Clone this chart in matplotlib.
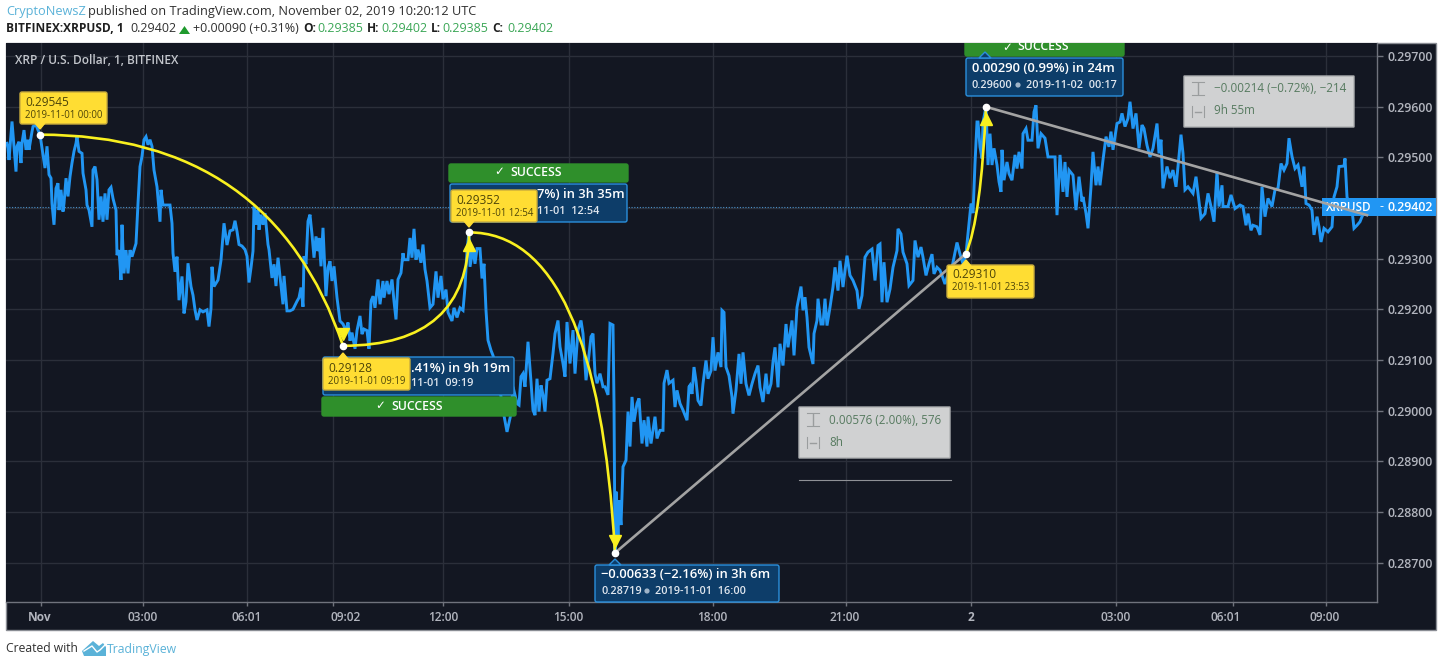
import matplotlib
matplotlib.use("Agg")
import matplotlib.pyplot as plt
from matplotlib.patches import FancyBboxPatch, Rectangle, PathPatch, Polygon, Circle
from matplotlib.path import Path

plt.rcParams['font.family'] = ['Open Sans', 'DejaVu Sans']

# ---------- data ----------
bars = [7,8,9,11,12,14,16,17,19,21,22,24,26,28,29,32,33,36,38,40,42,45,47,49,51,52,54,56,58,59,61,63,64,66,68,70,72,74,76,77,79,82,83,86,87,89,92,93,95,97,99,101,103,105,107,109,111,113,116,117,119,121,122,124,126,128,130,132,136,138,140,142,144,146,148,150,152,154,157,159,160,161,163,170,172,173,175,177,179,182,184,186,188,191,193,195,197,200,203,207,209,211,212,214,218,221,223,224,227,
230,233,235,237,239,242,245,247,249,251,253,254,256,258,259,261,263,265,268,269,272,274,276,278,281,283,284,287,290,293,297,299,301,303,304,306,308,310,312,314,316,318,319,321,323,326,328,330,332,334,337,340,343,346,348,350,352,355,357,360,362,364,367,369,371,373,375,378,380,383,384,387,389,392,394,396,398,401,403,404,408,410,412,414,416,418,421,423,425,427,430,433,436,438,441,443,446,448,452,454,457,460,
463,465,467,469,470,473,475,477,480,482,484,486,488,491,493,497,500,503,507,511,513,517,519,521,523,525,528,531,533,535,537,539,541,543,545,547,550,553,555,558,560,563,565,567,570,573,575,578,581,583,586,588,591,593,595,597,600,603,605,608,610,613,614,615,616,618,619,621,623,626,628,630,632,634,637,639,642,644,647,648,651,653,655,657,660,663,664,667,669,673,675,677,680,683,687,689,
690,692,694,696,698,701,703,706,708,711,713,715,718,721,722,724,726,729,732,733,736,739,741,743,746,749,752,755,758,760,763,766,768,771,773,775,778,780,783,786,788,792,794,797,801,803,805,807,809,813,814,817,818,821,823,825,827,830,833,835,838,840,843,845,847,850,853,857,859,862,865,868,872,875,878,880,882,884,887,890,893,897,898,901,903,907,909,913,915,918,921,923,926,929,932,934,937,940,942,945,948,952,955,957,960,963,966,
969,971,973,975,977,978,980,982,983,986,988,990,992,994,997,999,1001,1002,1004,1007,1009,1012,1015,1017,1019,1022,1023,1026,1028,1032,1034,1036,1038,1041,1045,1048,1055,1057,1060,1063,1065,1067,1069,1073,1076,1079,1082,1083,1086,1088,1091,1093,1096,1098,1100,1103,1106,1109,1111,1113,1117,1120,1122,1125,1128,1130,1133,1136,1139,1142,1144,1147,1150,1153,1157,1159,
1161,1163,1167,1170,1173,1176,1178,1181,1183,1185,1188,1193,1196,1198,1201,1205,1208,1211,1214,1217,1219,1222,1223,1228,1231,1235,1240,1243,1246,1248,1251,1253,1257,1260,1262,1265,1268,1272,1275,1278,1281,1284,1287,1289,1292,1295,1298,1302,1304,1306,1309,1312,1314,1317,1319,1321,1324,1328,1332,1334,1337,1339,1344,1345,1347,1350,1352,1354,1357,1360,1362,1367]

points = [29528,29518,29495,29545,29571,29522,29472,29522,29531,29489,29528,29554,29515,29535,29515,29551,29561,29564,29554,29545,29518,29479,29522,29466,29459,29409,29367,29439,29449,29396,29436,29393,29409,29459,29423,29462,29489,29512,29528,29541,29512,29508,29469,29436,29406,29396,29363,29475,29482,29456,29377,29423,29373,29429,29377,29436,29441,29419,29396,29307,29317,29258,29367,29271,29317,29271,29317,29304,29330,29409,29482,29502,29535,29541,29525,29535,29522,29475,29442,29396,29373,29436,29406,29406,29370,29311,29274,29304,29218,29265,29192,29215,29291,29245,29228,29199,29179,29199,29195,29199,29166,29202,29284,29245,29258,29297,29344,29370,29327,
29355,29357,29375,29354,29328,29325,29318,29305,29253,29282,29315,29403,29367,29397,29357,29387,29367,29390,29328,29318,29262,29289,29246,29302,29246,29210,29266,29197,29197,29200,29216,29223,29243,29205,29305,29289,29374,29387,29348,29302,29344,29315,29341,29285,29361,29226,29282,29295,29256,29285,29223,29177,29171,29158,29174,29138,29154,29122,29158,29187,29151,29161,29158,29122,29216,29226,29203,29259,29210,29256,29223,29256,29230,29259,29216,29180,29259,29272,29311,29298,29298,29341,29302,29359,29298,29318,29292,29328,29279,29256,29203,29210,29275,29223,29266,29220,29239,29194,29177,29203,29184,29203,
29198,29244,29317,29352,29284,29320,29290,29320,29320,29261,29290,29198,29139,29119,29109,29080,29040,29001,28958,28994,29047,29014,29011,29067,29073,29047,29136,29057,29001,28991,29063,28998,29050,29031,28998,29060,29063,29113,29152,29178,29126,29093,29067,29175,29093,29159,29073,29159,29178,29152,29060,29093,29146,29152,29073,29054,29073,29047,29047,29031,29172,29169,29014,28719,28840,28751,28823,28774,28889,28902,28998,28929,29027,28978,29014,29024,28935,28981,28929,28988,28935,28961,28988,28945,28961,28961,29054,29080,29054,29060,29007,29040,29014,29001,28981,29047,
29050,29033,29086,29059,29020,29010,29053,29099,29063,29079,29145,29079,29115,29086,29198,29194,29086,29069,29027,28994,29040,29112,29053,29115,29053,29030,29053,29073,29089,29046,29017,29073,29033,29053,29096,29125,29046,29132,29089,29171,29125,29178,29109,29204,29245,29198,29224,29184,29125,29092,29152,29178,29221,29171,29171,29221,29168,29204,29244,29283,29237,29296,29244,29277,29306,29267,29257,29237,29201,29227,29303,29313,29319,29257,29326,29329,29214,29293,29214,29240,29283,29316,29359,29349,29313,29290,29247,29257,29336,29303,29323,29303,29267,29290,29309,29270,29283,29277,29267,29250,29270,29283,29313,29332,29309,29290,29310,
29370,29409,29390,29488,29570,29570,29521,29498,29570,29600,29485,29547,29485,29518,29485,29452,29432,29515,29455,29491,29468,29455,29505,29478,29511,29478,29547,29557,29534,29534,29590,29603,29518,29547,29538,29501,29501,29386,29505,29432,29491,29422,29475,29465,29396,29462,29413,29422,29390,29360,29442,29511,29445,29482,29445,29495,29541,29521,29551,29515,29567,29570,29587,29561,29577,29610,29557,29587,29518,29564,29557,29524,29501,29518,29567,29508,
29535,29439,29482,29459,29475,29442,29482,29545,29508,29436,29442,29429,29462,29429,29380,29389,29429,29403,29373,29472,29403,29445,29403,29403,29426,29399,29406,29403,29366,29389,29356,29366,29363,29347,29442,29383,29419,29403,29436,29439,29488,29475,29488,29538,29502,29478,29485,29442,29482,29409,29406,29396,29347,29383,29363,29333,29360,29353,29363,29422,29442,29482,29483,29498,29422,29403,29396,29360,29366,29373,29383,29402]

prices = [p / 100000 for p in points]

price_ticks = [0.287, 0.288, 0.289, 0.290, 0.291, 0.292, 0.293, 0.294, 0.295, 0.296, 0.297]
price_tick_labels = ["0.28700", "0.28800", "0.28900", "0.29000", "0.29100", "0.29200",
                     "0.29300", "", "0.29500", "0.29600", "0.29700"]
grid_bars = [41, 143, 247, 333, 443, 569, 713, 846, 971, 1116, 1233, 1326]
label_bars = [40, 143, 247, 346, 443, 568, 712, 845, 971, 1116, 1226, 1325]
time_labels = ["Nov", "03:00", "06:01", "09:02", "12:00", "15:00", "18:00", "21:00", "2", "03:00", "06:01", "09:00"]
bold_labels = ["Nov", "2"]

pivot_bars = [40, 343, 469, 615, 966, 986]
pivot_prices = [0.29545, 0.29128, 0.29352, 0.28719, 0.29310, 0.29600]
curve_ctrl_bars = [272, 469, 597, 981]
curve_ctrl_prices = [0.29545, 0.29128, 0.29352, 0.29380]
measure_end_bar = 1367
measure_end_price = 0.29386
last_price = 0.29402

W, H = 1444, 667
BG = "#131722"; GRID = "#2b2f3a"; AX = "#70737d"; TXT = "#b2b5be"
BLUE = "#2196f3"; YEL = "#f9f01f"

fig = plt.figure(figsize=(W / 100, H / 100), dpi=100, facecolor="white")

def frac(x0, y0, x1, y1):
    return [x0 / W, 1 - y1 / H, (x1 - x0) / W, (y1 - y0) / H]

# background strip (pixel space)
bg = fig.add_axes([0, 0, 1, 1], zorder=0)
bg.set_xlim(0, W); bg.set_ylim(H, 0); bg.axis("off")
bg.add_patch(Rectangle((6, 43), 1430, 587, fc=BG, ec="#8a8d94", lw=1))

# ---------- main chart ----------
ax = fig.add_axes(frac(6, 43, 1377, 602), zorder=1)
ax.set_facecolor(BG)
ax.set_xlim(6, 1377)
ax.set_ylim(0.28622, 0.29726)
for s in ["top", "left"]:
    ax.spines[s].set_visible(False)
for s in ["right", "bottom"]:
    ax.spines[s].set_color(AX); ax.spines[s].set_linewidth(1)
ax.set_axisbelow(True)
ax.yaxis.tick_right()
ax.set_yticks(price_ticks)
ax.set_yticklabels(price_tick_labels, fontsize=8.9, color=TXT, fontweight="semibold")
ax.set_xticks(grid_bars)
ax.set_xticklabels([])
ax.tick_params(axis="y", color=AX, length=4, width=1, pad=3.5)
ax.tick_params(axis="x", color=AX, length=3, width=1)
ax.grid(True, color=GRID, lw=1)
for b, lab in zip(label_bars, time_labels):
    ax.text(b, -0.0286, lab, transform=ax.get_xaxis_transform(), ha="center", va="center",
            fontsize=8.6, color=TXT, fontweight="bold" if lab in bold_labels else "semibold", clip_on=False)

ax.axhline(last_price, color="#4a90c8", lw=0.8, ls=(0, (1, 1.5)), zorder=1.5)
ax.plot(bars, prices, color=BLUE, lw=2.1, solid_joinstyle="miter", zorder=2)

# last-price tag sits under the measure line
ax.add_patch(Rectangle((1322, last_price - 0.00018), 114, 0.00036, fc=BLUE, ec="none", zorder=4, clip_on=False))
ax.text(1349, last_price, "XRPUSD", fontsize=8.4, color="white", fontweight="semibold",
        ha="center", va="center", zorder=4.5)
ax.text(1379, last_price, "-", fontsize=8.9, color="white", va="center", zorder=4.5, clip_on=False)
ax.text(1387, last_price, "0.29402", fontsize=8.9, color="white", fontweight="semibold",
        va="center", zorder=4.5, clip_on=False)

ax.plot([pivot_bars[3], pivot_bars[4]], [pivot_prices[3], pivot_prices[4]], color="#a3a3a3", lw=1.9, zorder=5)
ax.plot([pivot_bars[5], measure_end_bar], [pivot_prices[5], measure_end_price], color="#a3a3a3", lw=1.9, zorder=5)

for i in range(4):
    verts = [(pivot_bars[[0, 1, 2, 4][i]], pivot_prices[[0, 1, 2, 4][i]]),
             (curve_ctrl_bars[i], curve_ctrl_prices[i]),
             (pivot_bars[[1, 2, 3, 5][i]], pivot_prices[[1, 2, 3, 5][i]])]
    ax.add_patch(PathPatch(Path(verts, [Path.MOVETO, Path.CURVE3, Path.CURVE3]),
                           fc="none", ec=YEL, lw=1.9, zorder=6))

# arrow heads just before each curve's end
ax.plot([pivot_bars[1]], [pivot_prices[1] + 0.00024], "v", color=YEL, ms=8.5, mec=YEL, zorder=7)
ax.plot([pivot_bars[2]], [pivot_prices[2] - 0.00024], "^", color=YEL, ms=8.5, mec=YEL, zorder=7)
ax.plot([pivot_bars[3]], [pivot_prices[3] + 0.00024], "v", color=YEL, ms=8.5, mec=YEL, zorder=7)
ax.plot([pivot_bars[5]], [pivot_prices[5] - 0.00024], "^", color=YEL, ms=8.5, mec=YEL, zorder=7)

# ---------- overlay in pixel space ----------
fg = fig.add_axes([0, 0, 1, 1], zorder=2)
fg.set_xlim(0, W); fg.set_ylim(H, 0); fg.axis("off"); fg.patch.set_alpha(0)
pane = Rectangle((6, 43), 1371, 559, transform=fg.transData, fc="none", ec="none")
fg.add_patch(pane)

def box(x0, y0, x1, y1, fc, ec=None, z=3, clip=False, alpha=None, r=2):
    p = FancyBboxPatch((x0 + r, y0 + r), x1 - x0 - 2 * r, y1 - y0 - 2 * r,
                       boxstyle=f"round,pad={r},rounding_size={r}", fc=fc, ec=ec or fc,
                       lw=1, zorder=z, alpha=alpha)
    fg.add_patch(p)
    if clip:
        p.set_clip_path(pane)
    return p

def txt(x, y, s, size=8, color="white", weight="normal", ha="left", z=8, **kw):
    return fg.text(x, y, s, fontsize=size, color=color, fontweight=weight, ha=ha, va="center", zorder=z, **kw)

# title in pane
txt(15, 60, "XRP / U.S. Dollar, 1, BITFINEX", 8.6, "#c3c6cc", "semibold")

# blue labels and green SUCCESS bars
NAVY = "#0d3d69"; EDGE = "#2a8fdc"; GREEN = "#2f8f2b"
box(323, 357, 514, 395, NAVY, EDGE)
box(322, 397, 516, 416, GREEN)
txt(411, 368, ".41%) in 9h 19m", 9.4, "white", "semibold")
txt(411, 384, "11-01  09:19", 7.8, "#dfe6ee", "semibold")
txt(375, 406, "✓", 8.5); txt(391, 406, "SUCCESS", 8.8, "white", "semibold")

box(450, 184, 627, 222, NAVY, EDGE)
box(449, 164, 628, 182, GREEN)
txt(537, 195, "7%) in 3h 35m", 9.4, "white", "semibold")
txt(537, 211, "11-01  12:54", 7.8, "#dfe6ee", "semibold")
txt(494, 172, "✓", 8.5); txt(510, 172, "SUCCESS", 8.8, "white", "semibold")

box(966, 58, 1123, 96, NAVY, EDGE)
box(965, 36, 1124, 56, GREEN, clip=True)
txt(972, 69, "0.00290 (0.99%) in 24m", 9.4, "white", "semibold")
txt(972, 85, "0.29600", 7.8, "#dfe6ee", "semibold")
fg.add_patch(Circle((1018, 85), 2.6, fc="#9fb4c8", ec="none", zorder=8))
txt(1026, 85, "2019-11-02  00:17", 7.8, "#dfe6ee", "semibold")
fg.add_patch(Polygon([[979, 58], [985, 52], [991, 58]], fc=NAVY, ec=EDGE, lw=1, zorder=3))
t = txt(1002, 47, "✓", 8.5); t.set_clip_path(pane)
t = txt(1017, 47, "SUCCESS", 8.8, "white", "semibold"); t.set_clip_path(pane)

box(595, 565, 779, 602, NAVY, EDGE)
fg.add_patch(Polygon([[609, 565], [615, 559], [621, 565]], fc=NAVY, ec=EDGE, lw=1, zorder=3))
txt(601, 575, "−0.00633 (−2.16%) in 3h 6m", 9.4, "white", "semibold")
txt(601, 591, "0.28719", 7.8, "#dfe6ee", "semibold")
fg.add_patch(Circle((647, 591), 2.6, fc="#9fb4c8", ec="none", zorder=8))
txt(655, 591, "2019-11-01  16:00", 7.8, "#dfe6ee", "semibold")

# yellow price notes
YB = "#ffdd33"; YE = "#c9ac3c"; YT = "#4d4508"
def note(x0, y0, x1, y1, tip, up, a, b):
    box(x0, y0, x1, y1, YB, YE, z=5)
    if up:
        fg.add_patch(Polygon([[tip - 5, y0 + 1], [tip, y0 - 5], [tip + 5, y0 + 1]], fc=YB, ec=YB, zorder=5))
    else:
        fg.add_patch(Polygon([[tip - 5, y1 - 1], [tip, y1 + 5], [tip + 5, y1 - 1]], fc=YB, ec=YB, zorder=5))
    txt(x0 + 5, y0 + 10, a, 8.6, YT)
    txt(x0 + 5, y0 + 23, b, 6.9, YT)

note(20, 92, 107, 124, 40, False, "0.29545", "2019-11-01 00:00")
note(323, 358, 410, 390, 343, True, "0.29128", "2019-11-01 09:19")
note(451, 190, 537, 222, 469, False, "0.29352", "2019-11-01 12:54")
note(947, 265, 1034, 298, 966, True, "0.29310", "2019-11-01 23:53")

# white pivot dots
for b, p in zip(pivot_bars, pivot_prices):
    ax.plot([b], [p], "o", color="white", ms=4.5, mec="white", zorder=8)

# grey measure boxes
GB = "#d0d1d2"; GT = "#567a5f"; GI = "#9a9d9e"
def measure(x0, y0, x1, y1, a, b):
    box(x0, y0, x1, y1, GB, "#aeb0b2", z=4, r=0.5)
    ix = x0 + 14
    fg.plot([ix - 6, ix + 6], [y0 + 6, y0 + 6], color=GI, lw=0.8, zorder=5)
    fg.plot([ix - 6, ix + 6], [y0 + 19, y0 + 19], color=GI, lw=0.8, zorder=5)
    fg.plot([ix, ix], [y0 + 7, y0 + 18], color=GI, lw=1, zorder=5)
    fg.plot([ix - 6, ix - 6], [y0 + 30, y0 + 41], color=GI, lw=0.8, zorder=5)
    fg.plot([ix + 6, ix + 6], [y0 + 30, y0 + 41], color=GI, lw=0.8, zorder=5)
    fg.plot([ix - 3, ix + 3], [y0 + 35.5, y0 + 35.5], color=GI, lw=1, zorder=5)
    txt(x0 + 30, y0 + 13, a, 8.4, GT)
    txt(x0 + 30, y0 + 35, b, 8.4, GT)

measure(799, 407, 950, 458, "0.00576 (2.00%), 576", "8h")
measure(1184, 76, 1354, 127, "−0.00214 (−0.72%), −214", "9h 55m")
fg.plot([799, 951], [480, 480], color="#8f9196", lw=0.8, zorder=4)

# header
HT = "#303030"
txt(6, 12, "CryptoNewsZ", 9.2, "#5ab2d8")
txt(88, 12, "published on TradingView.com, November 02, 2019 10:20:12 UTC", 9.15, HT)
txt(6, 29, "BITFINEX:XRPUSD, 1", 8.6, "#1f1f1f", "bold")
txt(130, 29, "0.29402", 9.0, HT)
fg.add_patch(Polygon([[179, 34], [184.5, 26], [190, 34]], fc="#1f9a2d", ec="none"))
txt(193, 29, "+0.00090 (+0.31%)", 9.0, HT)
GN = "#3aa655"
for x, lab, xv, val in [(303, "O:", 317, "0.29385"), (367, "H:", 381, "0.29402"),
                        (431, "L:", 442, "0.29385"), (492, "C:", 507, "0.29402")]:
    txt(x, 29, lab, 8.6, "#1f1f1f", "bold")
    txt(xv, 29, val, 9.0, GN)

# footer
txt(6, 649, "Created with", 8.7, HT)
fg.add_patch(Polygon([[82, 651], [93, 641], [99, 646], [103, 643], [106, 647], [106, 656], [84, 656]], fc="#5ab2d8", ec="none"))
fg.plot([84, 92, 97, 100, 105], [651, 646, 652, 650, 645], color="white", lw=1, zorder=6)
txt(107, 649, "TradingView", 8.8, "#5ab2d8")

fig.savefig("out.png", dpi=100, facecolor="white")
